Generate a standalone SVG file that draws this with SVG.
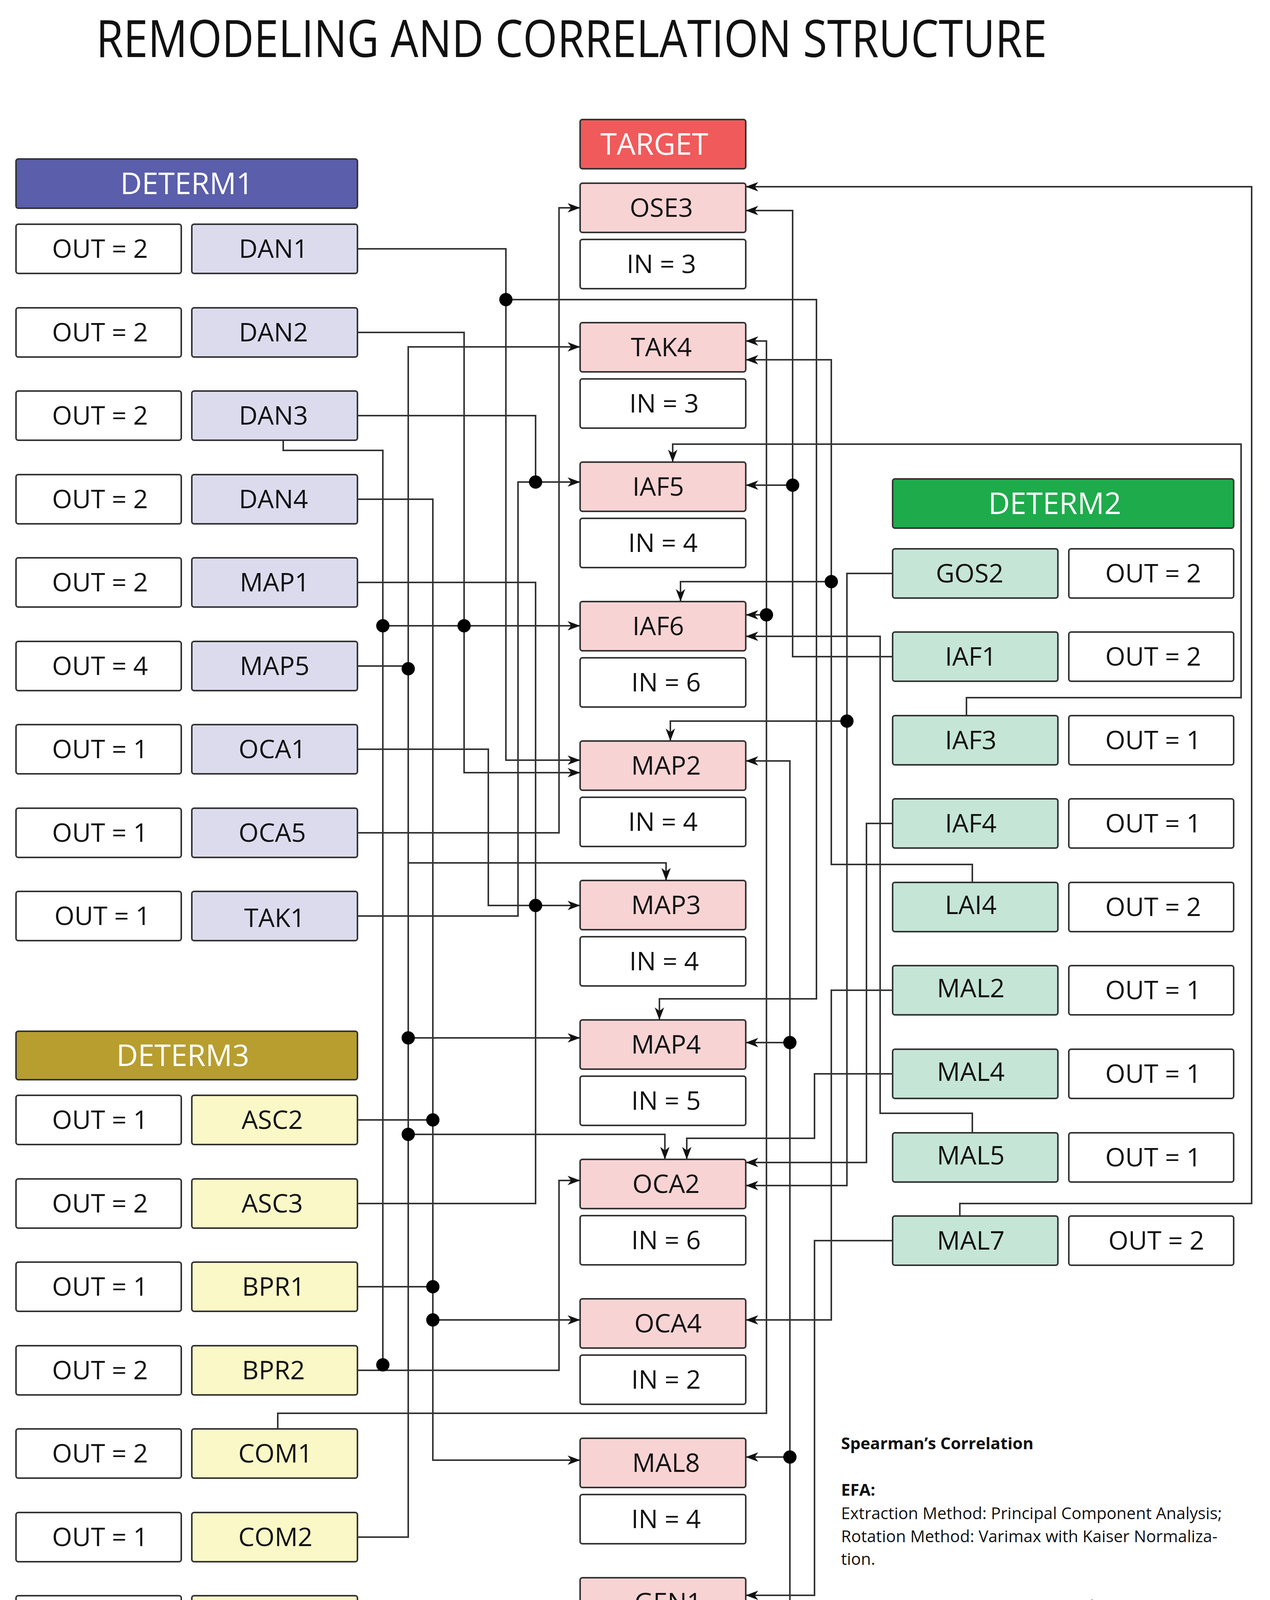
<svg xmlns="http://www.w3.org/2000/svg" width="3251" height="4386" viewBox="0 0 3251 4386">
<style>
.b{stroke:#333;stroke-width:4}
.w{fill:#fff}
.d1{fill:#DCDBEE}.d2{fill:#C5E5D6}.d3{fill:#FAF8C6}.t{fill:#F8D3D4}
.lb{font-family:"Open Sans","Liberation Sans",sans-serif;font-size:66px;text-anchor:middle;fill:#111}
.hd{font-family:"Open Sans","Liberation Sans",sans-serif;font-size:76px;text-anchor:middle;fill:#fff}
.c path{fill:none;stroke:#333;stroke-width:4}
.c .a{marker-end:url(#ar)}
.c circle{fill:#000}
.lg{font-family:"Open Sans","Liberation Sans",sans-serif;font-size:42px;fill:#111}
</style>
<defs>
<marker id="ar" markerUnits="userSpaceOnUse" markerWidth="34" markerHeight="24" refX="32" refY="12" orient="auto">
<path d="M0,0 L32,12 L0,24 L9,12 z" fill="#111"/>
</marker>
</defs>
<rect width="3251" height="4386" fill="#fff"/>
<text x="246" y="146" font-family="'Open Sans','Liberation Sans',sans-serif" font-size="132" textLength="2434" lengthAdjust="spacingAndGlyphs" fill="#111">REMODELING AND CORRELATION STRUCTURE</text>

<g id="connectors" class="c">
<path class="a" d="M915,637 H1295 V1946 H1485"/>
<path class="a" d="M1295,767 H2090 V2557 H1688 V2611"/>
<path class="a" d="M915,851 H1188 V1978 H1485"/>
<path class="a" d="M915,1064 H1371 V1234 H1485"/>
<path d="M725,1127 V1153 H980 V3494"/>
<path class="a" d="M980,1602 H1485"/>
<path class="a" d="M915,1278 H1108 V3738 H1485"/>
<path d="M915,1491 H1371 V3081 H915"/>
<path d="M915,1705 H1045"/>
<path class="a" d="M915,3935 H1045 V888 H1485"/>
<path class="a" d="M1045,2209 H1705 V2254"/>
<path class="a" d="M1045,2657 H1485"/>
<path class="a" d="M1045,2904 H1702 V2968"/>
<path class="a" d="M915,1918 H1250 V2318 H1485"/>
<path class="a" d="M915,2132 H1431 V532 H1485"/>
<path d="M915,2345 H1326 V1234 H1371"/>
<path d="M915,2867 H1108"/>
<path d="M915,3294 H1108"/>
<path class="a" d="M1108,3379 H1485"/>
<path class="a" d="M915,3508 H1431 V3022 H1485"/>
<path class="a" d="M711,3658 V3618 H1962 V873 H1909"/>
<path class="a" d="M1962,1574 H1909"/>
<path class="a" d="M915,4148 H1188 V4349 H2022 V1948 H1909"/>
<path class="a" d="M2022,2669 H1909"/>
<path class="a" d="M2022,3730 H1909"/>
<path class="a" d="M2285,1681 H2029 V539 H1909"/>
<path class="a" d="M2029,1242 H1909"/>
<path class="a" d="M2489,2259 V2213 H2128 V921 H1909"/>
<path class="a" d="M2128,1489 H1742 V1540"/>
<path class="a" d="M2285,1468 H2168 V3035 H1909"/>
<path class="a" d="M2168,1846 H1716 V1897"/>
<path class="a" d="M2474,1832 V1786 H3177 V1137 H1722 V1183"/>
<path class="a" d="M2285,2108 H2218 V2976 H1909"/>
<path class="a" d="M2285,2535 H2128 V3379 H1909"/>
<path class="a" d="M2285,2749 H2085 V2914 H1758 V2968"/>
<path class="a" d="M2489,2900 V2850 H2253 V1629 H1909"/>
<path class="a" d="M2285,3176 H2085 V4084 H1909"/>
<path class="a" d="M2457,3113 V3081 H3204 V478 H1909"/>
<circle cx="1295" cy="767" r="17"/><circle cx="1371" cy="1234" r="17"/>
<circle cx="980" cy="1602" r="17"/><circle cx="1188" cy="1602" r="17"/>
<circle cx="1045" cy="1712" r="17"/><circle cx="1371" cy="2318" r="17"/>
<circle cx="1045" cy="2657" r="17"/><circle cx="1108" cy="2867" r="17"/>
<circle cx="1045" cy="2904" r="17"/><circle cx="1108" cy="3294" r="17"/>
<circle cx="1108" cy="3379" r="17"/><circle cx="980" cy="3494" r="17"/>
<circle cx="2029" cy="1242" r="17"/><circle cx="2128" cy="1489" r="17"/>
<circle cx="1962" cy="1574" r="17"/><circle cx="2168" cy="1846" r="17"/>
<circle cx="2022" cy="2669" r="17"/><circle cx="2022" cy="3730" r="17"/>
</g>

<g id="DETERM1"><rect x="41" y="407" width="874" height="126" rx="6" fill="#5A5EAB" class="b"/><text class="hd" x="478" y="497">DETERM1</text></g>
<g id="TARGET"><rect x="1485" y="306" width="424" height="126" rx="6" fill="#F05A5B" class="b"/><text class="hd" x="1675" y="396">TARGET</text></g>
<g id="DETERM2"><rect x="2285" y="1226" width="873" height="126" rx="6" fill="#1EAB4B" class="b"/><text class="hd" x="2700" y="1316">DETERM2</text></g>
<g id="DETERM3"><rect x="41" y="2640" width="874" height="124" rx="6" fill="#B79E2F" class="b"/><text class="hd" x="468" y="2729">DETERM3</text></g>

<g id="DAN1"><rect x="41" y="574" width="423" height="126" rx="6" class="w b"/><text class="lb" x="256" y="660">OUT = 2</text><rect x="491" y="574" width="424" height="126" rx="6" class="d1 b"/><text class="lb" x="700" y="660">DAN1</text></g>
<g id="DAN2"><rect x="41" y="788" width="423" height="126" rx="6" class="w b"/><text class="lb" x="256" y="874">OUT = 2</text><rect x="491" y="788" width="424" height="126" rx="6" class="d1 b"/><text class="lb" x="700" y="874">DAN2</text></g>
<g id="DAN3"><rect x="41" y="1001" width="423" height="126" rx="6" class="w b"/><text class="lb" x="256" y="1087">OUT = 2</text><rect x="491" y="1001" width="424" height="126" rx="6" class="d1 b"/><text class="lb" x="700" y="1087">DAN3</text></g>
<g id="DAN4"><rect x="41" y="1215" width="423" height="126" rx="6" class="w b"/><text class="lb" x="256" y="1301">OUT = 2</text><rect x="491" y="1215" width="424" height="126" rx="6" class="d1 b"/><text class="lb" x="700" y="1301">DAN4</text></g>
<g id="MAP1"><rect x="41" y="1428" width="423" height="126" rx="6" class="w b"/><text class="lb" x="256" y="1514">OUT = 2</text><rect x="491" y="1428" width="424" height="126" rx="6" class="d1 b"/><text class="lb" x="703" y="1514">MAP1</text></g>
<g id="MAP5"><rect x="41" y="1642" width="423" height="126" rx="6" class="w b"/><text class="lb" x="256" y="1728">OUT = 4</text><rect x="491" y="1642" width="424" height="126" rx="6" class="d1 b"/><text class="lb" x="703" y="1728">MAP5</text></g>
<g id="OCA1"><rect x="41" y="1855" width="423" height="126" rx="6" class="w b"/><text class="lb" x="256" y="1941">OUT = 1</text><rect x="491" y="1855" width="424" height="126" rx="6" class="d1 b"/><text class="lb" x="697" y="1941">OCA1</text></g>
<g id="OCA5"><rect x="41" y="2069" width="423" height="126" rx="6" class="w b"/><text class="lb" x="256" y="2155">OUT = 1</text><rect x="491" y="2069" width="424" height="126" rx="6" class="d1 b"/><text class="lb" x="697" y="2155">OCA5</text></g>
<g id="TAK1"><rect x="41" y="2282" width="423" height="126" rx="6" class="w b"/><text class="lb" x="262" y="2368">OUT = 1</text><rect x="491" y="2282" width="424" height="126" rx="6" class="d1 b"/><text class="lb" x="703" y="2373">TAK1</text></g>

<g id="ASC2"><rect x="41" y="2804" width="423" height="126" rx="6" class="w b"/><text class="lb" x="256" y="2890">OUT = 1</text><rect x="491" y="2804" width="424" height="126" rx="6" class="d3 b"/><text class="lb" x="697" y="2890">ASC2</text></g>
<g id="ASC3"><rect x="41" y="3018" width="423" height="126" rx="6" class="w b"/><text class="lb" x="256" y="3104">OUT = 2</text><rect x="491" y="3018" width="424" height="126" rx="6" class="d3 b"/><text class="lb" x="697" y="3104">ASC3</text></g>
<g id="BPR1"><rect x="41" y="3231" width="423" height="126" rx="6" class="w b"/><text class="lb" x="256" y="3317">OUT = 1</text><rect x="491" y="3231" width="424" height="126" rx="6" class="d3 b"/><text class="lb" x="700" y="3317">BPR1</text></g>
<g id="BPR2"><rect x="41" y="3445" width="423" height="126" rx="6" class="w b"/><text class="lb" x="256" y="3531">OUT = 2</text><rect x="491" y="3445" width="424" height="126" rx="6" class="d3 b"/><text class="lb" x="700" y="3531">BPR2</text></g>
<g id="COM1"><rect x="41" y="3658" width="423" height="126" rx="6" class="w b"/><text class="lb" x="256" y="3744">OUT = 2</text><rect x="491" y="3658" width="424" height="126" rx="6" class="d3 b"/><text class="lb" x="705" y="3744">COM1</text></g>
<g id="COM2"><rect x="41" y="3872" width="423" height="126" rx="6" class="w b"/><text class="lb" x="256" y="3958">OUT = 1</text><rect x="491" y="3872" width="424" height="126" rx="6" class="d3 b"/><text class="lb" x="705" y="3958">COM2</text></g>
<g id="OSE2"><rect x="41" y="4085" width="423" height="126" rx="6" class="w b"/><text class="lb" x="256" y="4171">OUT = 3</text><rect x="491" y="4085" width="424" height="126" rx="6" class="d3 b"/><text class="lb" x="690" y="4171">OSE2</text></g>

<g id="OSE3"><rect x="1485" y="469" width="424" height="126" rx="6" class="t b"/><text class="lb" x="1693" y="555">OSE3</text><rect x="1485" y="613" width="424" height="126" rx="6" class="w b"/><text class="lb" x="1693" y="699">IN = 3</text></g>
<g id="TAK4"><rect x="1485" y="826" width="424" height="126" rx="6" class="t b"/><text class="lb" x="1693" y="912">TAK4</text><rect x="1485" y="970" width="424" height="126" rx="6" class="w b"/><text class="lb" x="1700" y="1056">IN = 3</text></g>
<g id="IAF5"><rect x="1485" y="1183" width="424" height="126" rx="6" class="t b"/><text class="lb" x="1685" y="1269">IAF5</text><rect x="1485" y="1327" width="424" height="126" rx="6" class="w b"/><text class="lb" x="1697" y="1413">IN = 4</text></g>
<g id="IAF6"><rect x="1485" y="1540" width="424" height="126" rx="6" class="t b"/><text class="lb" x="1685" y="1626">IAF6</text><rect x="1485" y="1684" width="424" height="126" rx="6" class="w b"/><text class="lb" x="1705" y="1770">IN = 6</text></g>
<g id="MAP2"><rect x="1485" y="1897" width="424" height="126" rx="6" class="t b"/><text class="lb" x="1705" y="1983">MAP2</text><rect x="1485" y="2041" width="424" height="126" rx="6" class="w b"/><text class="lb" x="1697" y="2127">IN = 4</text></g>
<g id="MAP3"><rect x="1485" y="2254" width="424" height="126" rx="6" class="t b"/><text class="lb" x="1705" y="2340">MAP3</text><rect x="1485" y="2398" width="424" height="126" rx="6" class="w b"/><text class="lb" x="1700" y="2484">IN = 4</text></g>
<g id="MAP4"><rect x="1485" y="2611" width="424" height="126" rx="6" class="t b"/><text class="lb" x="1705" y="2697">MAP4</text><rect x="1485" y="2755" width="424" height="126" rx="6" class="w b"/><text class="lb" x="1705" y="2841">IN = 5</text></g>
<g id="OCA2"><rect x="1485" y="2968" width="424" height="126" rx="6" class="t b"/><text class="lb" x="1705" y="3054">OCA2</text><rect x="1485" y="3112" width="424" height="126" rx="6" class="w b"/><text class="lb" x="1705" y="3198">IN = 6</text></g>
<g id="OCA4"><rect x="1485" y="3325" width="424" height="126" rx="6" class="t b"/><text class="lb" x="1710" y="3411">OCA4</text><rect x="1485" y="3469" width="424" height="126" rx="6" class="w b"/><text class="lb" x="1705" y="3555">IN = 2</text></g>
<g id="MAL8"><rect x="1485" y="3682" width="424" height="126" rx="6" class="t b"/><text class="lb" x="1705" y="3768">MAL8</text><rect x="1485" y="3826" width="424" height="126" rx="6" class="w b"/><text class="lb" x="1705" y="3912">IN = 4</text></g>
<g id="GEN1"><rect x="1485" y="4039" width="424" height="126" rx="6" class="t b"/><text class="lb" x="1710" y="4125">GEN1</text><rect x="1485" y="4183" width="424" height="126" rx="6" class="w b"/><text class="lb" x="1710" y="4269">IN = 1</text></g>

<g id="GOS2"><rect x="2285" y="1405" width="423" height="126" rx="6" class="d2 b"/><text class="lb" x="2482" y="1491">GOS2</text><rect x="2736" y="1405" width="422" height="126" rx="6" class="w b"/><text class="lb" x="2952" y="1491">OUT = 2</text></g>
<g id="IAF1"><rect x="2285" y="1618" width="423" height="126" rx="6" class="d2 b"/><text class="lb" x="2485" y="1704">IAF1</text><rect x="2736" y="1618" width="422" height="126" rx="6" class="w b"/><text class="lb" x="2952" y="1704">OUT = 2</text></g>
<g id="IAF3"><rect x="2285" y="1832" width="423" height="126" rx="6" class="d2 b"/><text class="lb" x="2485" y="1918">IAF3</text><rect x="2736" y="1832" width="422" height="126" rx="6" class="w b"/><text class="lb" x="2952" y="1918">OUT = 1</text></g>
<g id="IAF4"><rect x="2285" y="2045" width="423" height="126" rx="6" class="d2 b"/><text class="lb" x="2485" y="2131">IAF4</text><rect x="2736" y="2045" width="422" height="126" rx="6" class="w b"/><text class="lb" x="2952" y="2131">OUT = 1</text></g>
<g id="LAI4"><rect x="2285" y="2259" width="423" height="126" rx="6" class="d2 b"/><text class="lb" x="2485" y="2340">LAI4</text><rect x="2736" y="2259" width="422" height="126" rx="6" class="w b"/><text class="lb" x="2952" y="2345">OUT = 2</text></g>
<g id="MAL2"><rect x="2285" y="2472" width="423" height="126" rx="6" class="d2 b"/><text class="lb" x="2485" y="2553">MAL2</text><rect x="2736" y="2472" width="422" height="126" rx="6" class="w b"/><text class="lb" x="2952" y="2558">OUT = 1</text></g>
<g id="MAL4"><rect x="2285" y="2686" width="423" height="126" rx="6" class="d2 b"/><text class="lb" x="2485" y="2767">MAL4</text><rect x="2736" y="2686" width="422" height="126" rx="6" class="w b"/><text class="lb" x="2952" y="2772">OUT = 1</text></g>
<g id="MAL5"><rect x="2285" y="2900" width="423" height="126" rx="6" class="d2 b"/><text class="lb" x="2485" y="2981">MAL5</text><rect x="2736" y="2900" width="422" height="126" rx="6" class="w b"/><text class="lb" x="2952" y="2986">OUT = 1</text></g>
<g id="MAL7"><rect x="2285" y="3113" width="423" height="126" rx="6" class="d2 b"/><text class="lb" x="2485" y="3199">MAL7</text><rect x="2736" y="3113" width="422" height="126" rx="6" class="w b"/><text class="lb" x="2960" y="3199">OUT = 2</text></g>

<g id="legend" class="lg">
<text x="2153" y="3710" font-weight="bold">Spearman’s Correlation</text>
<text x="2153" y="3829" font-weight="bold">EFA:</text>
<text x="2153" y="3889">Extraction Method: Principal Component Analysis;</text>
<text x="2153" y="3948">Rotation Method: Varimax with Kaiser Normaliza-</text>
<text x="2153" y="4006">tion.</text>
<text x="2153" y="4127"><tspan font-weight="bold">Ordinal Logistic Regression</tspan> with Factor Input.</text>
<text x="2153" y="4246"><tspan font-weight="bold">Generalized Linear Models</tspan> with Ordinal Logistic</text>
<text x="2153" y="4305">Response and Covariate Input.</text>
</g>
</svg>
